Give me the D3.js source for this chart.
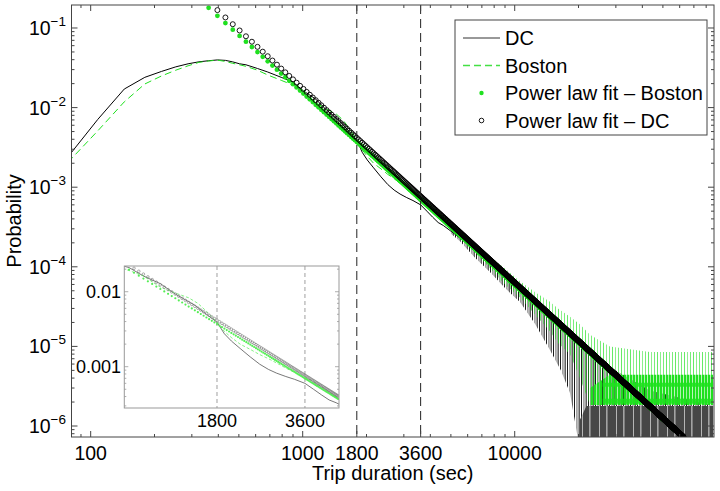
<!DOCTYPE html>
<html><head><meta charset="utf-8">
<script src="https://cdn.jsdelivr.net/npm/d3@7"></script>
<style>body{margin:0;background:#fff} text{font-family:"Liberation Sans",Arial,Helvetica,sans-serif;fill:#000}</style>
</head><body><svg id="c" width="720" height="491"></svg>
<script>
// ---------------- data ----------------
const seriesNames = ["DC", "Boston", "Power law fit \u2013 Boston", "Power law fit \u2013 DC"];
const xTickValues = [100, 1000, 1800, 3600, 10000];
const xTickLabels = ["100", "1000", "1800", "3600", "10000"];
const yTickExponents = [-1, -2, -3, -4, -5, -6];
const dashedLineX = [1800, 3600];
const insetXTicks = [1800, 3600];
const insetXTickLabels = ["1800", "3600"];
const insetYTicks = [0.01, 0.001];
const insetYTickLabels = ["0.01", "0.001"];

// empirical distributions (trip duration in sec, probability)
const dcX = [72,108,144,180,216,252,288,324,360,396,432,468,504,540,612,684,792,900,1008,1152,1296,1512,1656,1800,1908,2016,2160,2340,2520,2700,2880,3096,3312,3600,3852,4104,4356,4608,5004,5521];
const dcP = [1.83e-3,7.1e-3,1.71e-2,2.40e-2,2.85e-2,3.25e-2,3.55e-2,3.76e-2,3.88e-2,3.97e-2,3.92e-2,3.75e-2,3.55e-2,3.45e-2,3.1e-2,2.8e-2,2.4e-2,2.1e-2,1.62e-2,1.28e-2,9.3e-3,6.6e-3,5.0e-3,3.92e-3,2.75e-3,2.2e-3,1.75e-3,1.35e-3,1.08e-3,9.2e-4,8.2e-4,7.4e-4,6.8e-4,6.0e-4,5.0e-4,4.2e-4,3.6e-4,3.3e-4,2.8e-4,2.3e-4];
const bostonX = [72,108,144,180,216,252,288,324,360,396,432,468,504,540,612,684,792,900,1008,1152,1296,1440,1548,1656,1800,1908,2016,2160,2340,2520,2700,2880,3096,3312,3600,3852,4104,4500,5004,5521];
const bostonP = [1.63e-3,5.1e-3,1.18e-2,1.98e-2,2.5e-2,2.95e-2,3.35e-2,3.7e-2,3.85e-2,3.95e-2,3.8e-2,3.6e-2,3.45e-2,3.3e-2,2.95e-2,2.57e-2,2.2e-2,1.92e-2,1.62e-2,1.15e-2,9.6e-3,8.3e-3,7.0e-3,5.5e-3,3.95e-3,2.95e-3,2.45e-3,2.0e-3,1.7e-3,1.45e-3,1.28e-3,1.12e-3,9.6e-4,8.4e-4,7.2e-4,6.3e-4,5.4e-4,4.2e-4,3.3e-4,2.5e-4];

// noisy tails: envelope (low / high probability) read column by column
const dcTailX  = [5004,5521,6500,7643,9000,10590,12500,14660,16500,18230,20300,22650,28120,43400,86300];
const dcTailLo = [2.6e-4,2.1e-4,1.3e-4,8.6e-5,5.4e-5,3.6e-5,1.9e-5,9e-6,5e-6,2.6e-6,5e-7,5e-7,5e-7,5e-7,5e-7];
const dcTailHi = [3.3e-4,2.8e-4,1.85e-4,1.3e-4,8.5e-5,6.0e-5,4.0e-5,2.7e-5,2.0e-5,1.6e-5,1.2e-5,9e-6,5.5e-6,2.8e-6,1.8e-6];
const dcFloorX  = [20300,21800,86300];
const dcFloorLo = [5e-7,5e-7,5e-7];
const dcFloorHi = [1.2e-6,1.78e-6,1.78e-6];
const bostonTailX  = [5004,5521,6500,7643,9000,10590,12500,14660,16000,18230,20300,22650,28120,43400,86300];
const bostonTailLo = [2.8e-4,2.3e-4,1.5e-4,9.6e-5,6.0e-5,4.1e-5,2.5e-5,1.55e-5,1.1e-5,8e-6,4e-6,1.84e-6,1.84e-6,1.84e-6,1.84e-6];
const bostonTailHi = [3.6e-4,2.75e-4,1.9e-4,1.36e-4,9.5e-5,6.6e-5,4.8e-5,3.65e-5,3.0e-5,2.35e-5,1.9e-5,1.4e-5,1.0e-5,8.5e-6,8.5e-6];
const bostonFloorX  = [22650,28120,86300];
const bostonFloorLo = [1.84e-6,1.84e-6,1.84e-6];
const bostonFloorHi = [3.0e-6,4.4e-6,4.4e-6];
const bostonRowLevels = [2.05e-6, 3.3e-6];
const bostonRowRange = [26000, 86300];

// power-law fits: log10 p = log10A + exponent * log10 x, on the 36 s histogram grid
const fitLog10A   = [5.411, 5.563];   // Boston, DC
const fitExponent = [-2.409, -2.44];
const fitBinWidth = 36;

// ---------------- drawing ----------------
const GREEN = "#1fe01f";
const svg = d3.select("#c");
const L = 71.5, R = 714, T = 5, B = 437;
const x = d3.scaleLog().domain([81.2, 87100]).range([L, R]);
const y = d3.scaleLog().domain([7.275e-7, 0.1945]).range([B, T]);

svg.append("rect").attr("width", 720).attr("height", 491).attr("fill", "#fff");
const defs = svg.append("defs");
defs.append("clipPath").attr("id", "clipMain").append("rect")
  .attr("x", L).attr("y", T).attr("width", R - L).attr("height", B - T);

// vertical-stripe textures used to render the dense noisy tails
function hatch(id, w, color, stripes, base) {
  const p = defs.append("pattern").attr("id", id).attr("patternUnits", "userSpaceOnUse")
    .attr("width", w).attr("height", 20);
  if (base) p.append("rect").attr("width", w).attr("height", 20).attr("fill", base);
  stripes.forEach(s => p.append("rect").attr("x", s[0]).attr("y", 0).attr("width", s[1])
    .attr("height", 20).attr("fill", color));
}
hatch("dcSparse", 7, "#1a1a1a", [[0, 1], [2.6, 0.7], [4.6, 1.1]]);
hatch("dcDense", 17, "#fff", [[4, 0.6], [11.5, 0.8]], "#474747");
hatch("grSparse", 9, GREEN, [[0, 0.8], [3.2, 0.6], [6, 0.7]]);
hatch("grDense", 9, GREEN, [[0, 2.2], [2.7, 2.6], [5.9, 2.4]]);

const plot = svg.append("g").attr("clip-path", "url(#clipMain)");

function pts(xs, ps) { return xs.map((v, i) => [v, ps[i]]); }
function env(xs, lo, hi) { return xs.map((v, i) => ({x: v, lo: lo[i], hi: hi[i]})); }

function drawSeries(g, xs, ys, sx, sy, style) {
  const line = d3.line().x(d => sx(d[0])).y(d => sy(d[1]));
  const p = g.append("path").attr("d", line(pts(xs, ys))).attr("fill", "none")
    .attr("stroke", style.color).attr("stroke-width", style.width);
  if (style.dash) p.attr("stroke-dasharray", style.dash);
}
function drawEnv(g, data, sx, sy, fill, op) {
  const area = d3.area().x(d => sx(d.x)).y0(d => sy(d.lo)).y1(d => sy(d.hi));
  g.append("path").attr("d", area(data)).attr("fill", fill).attr("fill-opacity", op);
}
function fitPoints(i, sx, sy, xlo, xhi) {
  const out = [];
  const [r0, r1] = sy.range();
  for (let k = 1; k * fitBinWidth <= xhi; k++) {
    const xv = k * fitBinWidth;
    if (xv < xlo) continue;
    const pv = Math.pow(10, fitLog10A[i] + fitExponent[i] * Math.log10(xv));
    const py = sy(pv);
    if (py >= Math.min(r0, r1) && py <= Math.max(r0, r1)) out.push([xv, pv]);
  }
  return out;
}

// dashed reference lines
dashedLineX.forEach(v => {
  svg.append("line").attr("x1", x(v)).attr("x2", x(v)).attr("y1", T).attr("y2", B)
    .attr("stroke", "#222").attr("stroke-width", 1).attr("stroke-dasharray", "9,5");
});

// DC
drawSeries(plot, dcX, dcP, x, y, {color: "#000", width: 1});
drawEnv(plot, env(dcTailX, dcTailLo, dcTailHi), x, y, "url(#dcSparse)", 1);
drawEnv(plot, env(dcFloorX, dcFloorLo, dcFloorHi), x, y, "url(#dcDense)", 1);
// Boston
drawSeries(plot, bostonX, bostonP, x, y, {color: GREEN, width: 1, dash: "7,4"});
drawEnv(plot, env(bostonTailX, bostonTailLo, bostonTailHi), x, y, "url(#grSparse)", 0.85);
drawEnv(plot, env(bostonFloorX, bostonFloorLo, bostonFloorHi), x, y, "url(#grDense)", 1);
bostonRowLevels.forEach((lv, i) => {
  plot.append("line").attr("x1", x(bostonRowRange[0])).attr("x2", x(bostonRowRange[1]))
    .attr("y1", y(lv)).attr("y2", y(lv)).attr("stroke", GREEN).attr("stroke-width", i === 0 ? 5 : 4)
    .attr("stroke-opacity", 0.85);
});
// fits
plot.append("g").selectAll("circle").data(fitPoints(0, x, y, x.domain()[0], x.domain()[1])).join("circle")
  .attr("cx", d => x(d[0])).attr("cy", d => y(d[1])).attr("r", 2.4).attr("fill", GREEN);
plot.append("g").selectAll("circle").data(fitPoints(1, x, y, x.domain()[0], x.domain()[1])).join("circle")
  .attr("cx", d => x(d[0])).attr("cy", d => y(d[1])).attr("r", 2.5).attr("fill", "none")
  .attr("stroke", "#000").attr("stroke-width", 0.9);

// axes frame + ticks
const AX = "#444";
svg.append("rect").attr("x", L).attr("y", T).attr("width", R - L).attr("height", B - T)
  .attr("fill", "none").attr("stroke", AX).attr("stroke-width", 1);

const xMinor = [], yMinor = [];
for (let e = 1; e <= 4; e++) for (let m = 1; m <= 9; m++) {
  const v = m * Math.pow(10, e);
  if (v >= x.domain()[0] && v <= x.domain()[1] && !xTickValues.includes(v)) xMinor.push(v);
}
for (let e = -7; e <= -1; e++) for (let m = 2; m <= 9; m++) {
  const v = m * Math.pow(10, e);
  if (v >= y.domain()[0] && v <= y.domain()[1]) yMinor.push(v);
}
const tg = svg.append("g").attr("stroke", AX).attr("stroke-width", 1);
function xt(v, len) {
  tg.append("line").attr("x1", x(v)).attr("x2", x(v)).attr("y1", B).attr("y2", B - len);
  tg.append("line").attr("x1", x(v)).attr("x2", x(v)).attr("y1", T).attr("y2", T + len);
}
function yt(v, len) {
  tg.append("line").attr("y1", y(v)).attr("y2", y(v)).attr("x1", L).attr("x2", L + len);
  tg.append("line").attr("y1", y(v)).attr("y2", y(v)).attr("x1", R).attr("x2", R - len);
}
xTickValues.forEach(v => xt(v, 6));
xMinor.forEach(v => xt(v, 3));
yTickExponents.forEach(e => yt(Math.pow(10, e), 6));
yMinor.forEach(v => yt(v, 3));

xTickValues.forEach((v, i) => {
  svg.append("text").attr("x", x(v)).attr("y", 460).attr("text-anchor", "middle")
    .attr("font-size", 19.5).text(xTickLabels[i]);
});
yTickExponents.forEach(e => {
  const t = svg.append("text").attr("x", 66).attr("y", y(Math.pow(10, e)) + 7)
    .attr("text-anchor", "end").attr("font-size", 19.5);
  t.append("tspan").text("10");
  t.append("tspan").attr("dy", -9).attr("font-size", 13.5).text("\u2212" + Math.abs(e));
});
svg.append("text").attr("x", (L + R) / 2).attr("y", 480).attr("text-anchor", "middle")
  .attr("font-size", 20).text("Trip duration (sec)");
svg.append("text").attr("transform", `translate(21,${(T + B) / 2}) rotate(-90)`)
  .attr("text-anchor", "middle").attr("font-size", 20).text("Probability");

// legend
const lg = svg.append("g");
lg.append("rect").attr("x", 455).attr("y", 20).attr("width", 252).attr("height", 115)
  .attr("fill", "#fff").attr("stroke", AX).attr("stroke-width", 1);
const rowY = [38, 65.5, 93, 120.5];
lg.append("line").attr("x1", 463).attr("x2", 500).attr("y1", rowY[0]).attr("y2", rowY[0]).attr("stroke", "#333").attr("stroke-width", 1);
lg.append("line").attr("x1", 463).attr("x2", 500).attr("y1", rowY[1]).attr("y2", rowY[1]).attr("stroke", "#44e044").attr("stroke-width", 1.3).attr("stroke-dasharray", "7,4");
lg.append("circle").attr("cx", 481.5).attr("cy", rowY[2]).attr("r", 2.2).attr("fill", GREEN);
lg.append("circle").attr("cx", 481.5).attr("cy", rowY[3]).attr("r", 2.3).attr("fill", "none").attr("stroke", "#000").attr("stroke-width", 0.9);
seriesNames.forEach((n, i) => {
  lg.append("text").attr("x", 505).attr("y", rowY[i] + 7).attr("font-size", 20).text(n);
});

// ---------------- inset ----------------
const IL = 124.3, IR = 339, IT = 266, IB = 408;
const ix = d3.scaleLog().domain([867, 4708]).range([IL, IR]);
const iy = d3.scaleLog().domain([2.813e-4, 0.02203]).range([IB, IT]);
svg.append("rect").attr("x", IL).attr("y", IT).attr("width", IR - IL).attr("height", IB - IT).attr("fill", "#fff");
defs.append("clipPath").attr("id", "clipInset").append("rect")
  .attr("x", IL).attr("y", IT).attr("width", IR - IL).attr("height", IB - IT);
const ig = svg.append("g").attr("clip-path", "url(#clipInset)");
insetXTicks.forEach(v => {
  ig.append("line").attr("x1", ix(v)).attr("x2", ix(v)).attr("y1", IT).attr("y2", IB)
    .attr("stroke", "#888").attr("stroke-width", 0.8).attr("stroke-dasharray", "4,3");
});
drawSeries(ig, dcX, dcP, ix, iy, {color: "#555", width: 0.8});
drawSeries(ig, bostonX, bostonP, ix, iy, {color: "#6e6", width: 0.8, dash: "3,2"});
ig.append("g").selectAll("circle").data(fitPoints(0, ix, iy, 867, 4708)).join("circle")
  .attr("cx", d => ix(d[0])).attr("cy", d => iy(d[1])).attr("r", 1.1).attr("fill", "#5e5");
ig.append("g").selectAll("circle").data(fitPoints(1, ix, iy, 867, 4708)).join("circle")
  .attr("cx", d => ix(d[0])).attr("cy", d => iy(d[1])).attr("r", 1.3).attr("fill", "none")
  .attr("stroke", "#777").attr("stroke-width", 0.6);
svg.append("rect").attr("x", IL).attr("y", IT).attr("width", IR - IL).attr("height", IB - IT)
  .attr("fill", "none").attr("stroke", "#999").attr("stroke-width", 1);
const itg = svg.append("g").attr("stroke", "#999").attr("stroke-width", 0.8);
const iyMinor = [];
for (let e = -4; e <= -2; e++) for (let m = 2; m <= 9; m++) {
  const v = m * Math.pow(10, e);
  if (v >= iy.domain()[0] && v <= iy.domain()[1]) iyMinor.push(v);
}
insetYTicks.forEach(v => {
  itg.append("line").attr("x1", IL).attr("x2", IL + 4).attr("y1", iy(v)).attr("y2", iy(v));
  itg.append("line").attr("x1", IR).attr("x2", IR - 4).attr("y1", iy(v)).attr("y2", iy(v));
});
iyMinor.forEach(v => {
  itg.append("line").attr("x1", IL).attr("x2", IL + 2).attr("y1", iy(v)).attr("y2", iy(v));
  itg.append("line").attr("x1", IR).attr("x2", IR - 2).attr("y1", iy(v)).attr("y2", iy(v));
});
insetYTicks.forEach((v, i) => {
  svg.append("text").attr("x", 121).attr("y", iy(v) + 6.5).attr("text-anchor", "end")
    .attr("font-size", 18).text(insetYTickLabels[i]);
});
insetXTicks.forEach((v, i) => {
  svg.append("text").attr("x", ix(v)).attr("y", 427).attr("text-anchor", "middle")
    .attr("font-size", 18).text(insetXTickLabels[i]);
});
</script></body></html>
